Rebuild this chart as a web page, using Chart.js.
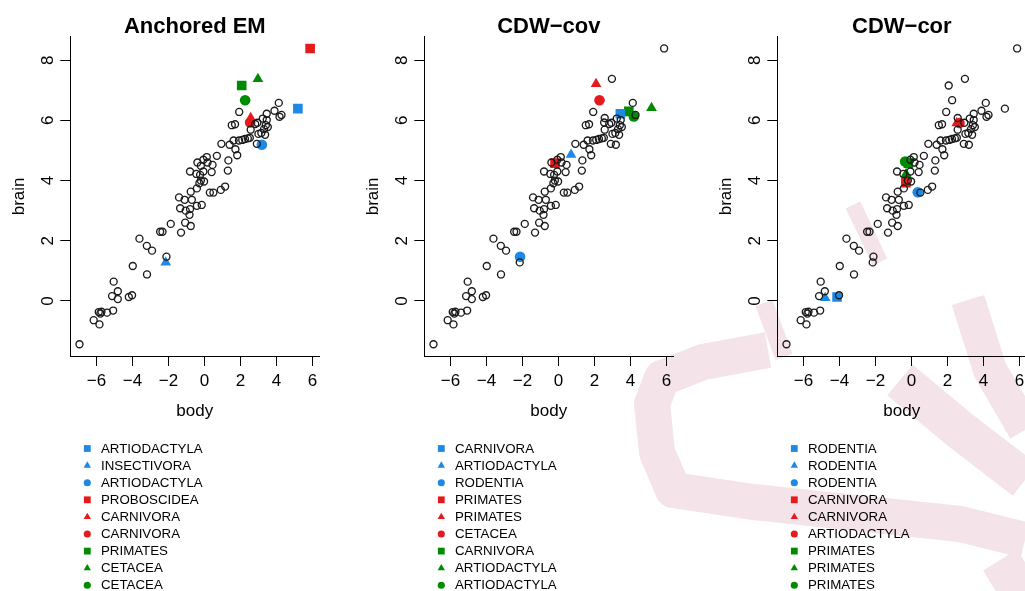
<!DOCTYPE html>
<html lang="en">
<head>
    <meta charset="UTF-8">
    <title>Anchored EM vs CDW</title>
    <script src="https://cdn.jsdelivr.net/npm/chart.js"></script>
    <style>
        body {
            margin: 0;
            background: #fff;
            width: 1025px;
            height: 591px;
            overflow: hidden;
            position: relative;
        }
        canvas, svg {
            position: absolute;
            top: 0;
        }
    </style>
</head>
<body>
    <!-- faint watermark behind the plots -->
    <svg width="1025" height="591" style="left:0">
        <g fill="none" stroke="#F4E3E8" stroke-linejoin="round" stroke-linecap="butt">
            <polyline stroke-width="36" points="768,350 703,362 662,378 652,404 657,452 673,490 753,502 960,524 1025,540"/>
            <polyline stroke-width="18" points="764,303 784,357"/>
            <polyline stroke-width="16" points="853,205 880,262"/>
            <polyline stroke-width="34" points="968,300 990,370 1025,430"/>
            <polyline stroke-width="40" points="900,380 960,430 1025,480"/>
            <polyline stroke-width="40" points="1000,560 1025,600"/>
        </g>
    </svg>
    <canvas id="p1" width="354" height="591" style="left:0px"></canvas>
    <canvas id="p2" width="354" height="591" style="left:354px"></canvas>
    <canvas id="p3" width="354" height="591" style="left:707px"></canvas>

    <script>
        // all observations (log body, log brain)
        const body = [-6.94, -6.15, -5.83, -5.87, -5.78, -5.72, -5.41, -5.07, -5.13, -5.04,
            -4.81, -4.81, -4.20, -4.02, -3.98, -3.61, -3.19, -3.20, -2.91, -2.46,
            -2.33, -2.11, -2.15, -1.87, -1.30, -1.07, -0.76, -1.41, -1.35, -1.10,
            -1.04, -0.80, -0.83, -0.70, -0.42, -0.15, -0.76, -0.42, -0.28, -0.20,
            -0.02, -0.80, -0.45, -0.24, -0.06, -0.39, -0.20, -0.06, 0.13, 0.17,
            0.45, 0.69, 0.40, 0.30, 0.50, 0.91, 1.15, 1.30, 1.33, 0.94,
            1.40, 1.72, 1.82, 1.52, 1.70, 1.93, 1.62, 1.92, 2.10, 2.25,
            2.41, 2.52, 2.91, 3.00, 3.16, 3.31, 3.41, 3.52, 3.37, 3.46,
            3.46, 3.24, 2.82, 2.94, 2.57, 3.89, 4.13, 4.17, 4.28, 5.19,
            3.19, 5.87, 2.57, 2.54, 2.07, 2.97, 2.26];
        const brain = [-1.44, -0.64, -0.78, -0.37, -0.42, -0.36, -0.39, -0.32, 0.16, 0.64,
            0.32, 0.06, 0.13, 0.19, 1.16, 2.07, 0.88, 1.83, 1.67, 2.30,
            2.30, 1.47, 1.28, 2.56, 2.27, 2.60, 2.49, 3.44, 3.08, 3.36,
            3.00, 3.05, 2.86, 3.36, 3.16, 3.19, 3.63, 3.74, 3.91, 4.00,
            3.97, 4.30, 4.22, 4.19, 4.30, 4.60, 4.49, 4.69, 4.78, 4.60,
            4.52, 4.82, 4.28, 3.60, 3.60, 3.69, 3.80, 4.33, 4.67, 5.22,
            5.19, 5.04, 4.84, 5.84, 5.87, 6.28, 5.33, 5.33, 5.35, 5.38,
            5.40, 5.42, 5.22, 5.55, 5.58, 5.71, 5.84, 5.78, 5.52, 6.01,
            6.22, 6.06, 5.88, 5.92, 5.69, 6.32, 6.58, 6.12, 6.18, 6.39,
            5.19, 8.39, 6.08, 5.93, 7.16, 7.38, 6.67];

        const xTicks = [-6, -4, -2, 0, 2, 4, 6];
        const yTicks = [0, 2, 4, 6, 8];

        // highlighted observations per panel
        const emBody = [5.19, -2.15, 3.19, 5.87, 2.57, 2.54, 2.07, 2.97, 2.26];
        const emBrain = [6.39, 1.28, 5.19, 8.39, 6.08, 5.93, 7.16, 7.38, 6.67];
        const emLabels = ['ARTIODACTYLA', 'INSECTIVORA', 'ARTIODACTYLA', 'PROBOSCIDEA', 'CARNIVORA',
            'CARNIVORA', 'PRIMATES', 'CETACEA', 'CETACEA'];

        const covBody = [3.44, 0.70, -2.13, -0.19, 2.09, 2.28, 3.91, 5.17, 4.19];
        const covBrain = [6.22, 4.86, 1.47, 4.58, 7.21, 6.67, 6.30, 6.41, 6.13];
        const covLabels = ['CARNIVORA', 'ARTIODACTYLA', 'RODENTIA', 'PRIMATES', 'PRIMATES',
            'CETACEA', 'CARNIVORA', 'ARTIODACTYLA', 'ARTIODACTYLA'];

        const corBody = [-4.13, -4.79, 0.35, -0.31, 2.52, 2.67, -0.17, -0.30, -0.35];
        const corBrain = [0.13, 0.10, 3.61, 3.93, 5.91, 5.91, 4.58, 4.22, 4.63];
        const corLabels = ['RODENTIA', 'RODENTIA', 'RODENTIA', 'CARNIVORA', 'CARNIVORA',
            'ARTIODACTYLA', 'PRIMATES', 'PRIMATES', 'PRIMATES'];

        const shapes = ['rect', 'triangle', 'circle'];
        const colors = ['#1E88E5', '#E41A1C', '#008B00'];
        const FONT = '"Liberation Sans", Arial, Helvetica, sans-serif';

        function drawMarker(ctx, shape, x, y, s) {
            ctx.beginPath();
            if (shape === 'rect') {
                ctx.rect(x - s, y - s, 2 * s, 2 * s);
            } else if (shape === 'triangle') {
                const r = s * 1.25;
                ctx.moveTo(x, y - r);
                ctx.lineTo(x + r * 0.866, y + r * 0.5);
                ctx.lineTo(x - r * 0.866, y + r * 0.5);
                ctx.closePath();
            } else {
                ctx.arc(x, y, s * 1.05, 0, Math.PI * 2);
            }
            ctx.fill();
        }

        const decor = {
            id: 'decor',
            afterDraw(chart, args, opts) {
                const {ctx, chartArea: a} = chart;
                const yScale = chart.scales.y;
                ctx.save();
                ctx.fillStyle = '#000';
                ctx.textAlign = 'center';
                ctx.textBaseline = 'middle';
                ctx.font = 'bold 22px ' + FONT;
                ctx.fillText(opts.title, (a.left + a.right) / 2, 27);

                ctx.font = '17px ' + FONT;
                yTicks.forEach(v => {
                    ctx.save();
                    ctx.translate(48, yScale.getPixelForValue(v));
                    ctx.rotate(-Math.PI / 2);
                    ctx.fillText(String(v), 0, 0);
                    ctx.restore();
                });

                ctx.font = '13.3px ' + FONT;
                ctx.textAlign = 'left';
                opts.labels.forEach((lab, i) => {
                    const yy = 448.5 + i * 17.1;
                    ctx.fillStyle = colors[Math.floor(i / 3)];
                    drawMarker(ctx, shapes[i % 3], 87.3, yy, 3.4);
                    ctx.fillStyle = '#000';
                    ctx.fillText(lab, 101, yy + 0.5);
                });
                ctx.restore();
            }
        };

        function makePanel(id, title, hx, hy, labels) {
            // drop the plain circle that each highlighted observation replaces
            const used = new Set();
            hx.forEach((x, k) => {
                let best = -1, bd = Infinity;
                body.forEach((bx, i) => {
                    if (used.has(i)) return;
                    const d = Math.pow((bx - x) * 18, 2) + Math.pow((brain[i] - hy[k]) * 30, 2);
                    if (d < bd) { bd = d; best = i; }
                });
                used.add(best);
            });
            const plain = body.map((x, i) => ({x: x, y: brain[i]})).filter((p, i) => !used.has(i));

            const datasets = [{
                data: plain,
                pointStyle: 'circle',
                pointRadius: 3.5,
                pointBorderWidth: 1.35,
                pointBorderColor: '#1a1a1a',
                pointBackgroundColor: 'rgba(0,0,0,0)'
            }];
            const sizes = {rect: 6.8, triangle: 6.2, circle: 5.3};
            hx.forEach((x, k) => {
                const shape = shapes[k % 3];
                datasets.push({
                    label: labels[k],
                    data: [{x: x, y: hy[k]}],
                    pointStyle: shape,
                    pointRadius: sizes[shape],
                    pointBorderWidth: 0,
                    pointBackgroundColor: colors[Math.floor(k / 3)],
                    pointBorderColor: colors[Math.floor(k / 3)]
                });
            });

            const axisFont = {family: FONT, size: 17};
            new Chart(document.getElementById(id), {
                type: 'scatter',
                data: {datasets: datasets},
                options: {
                    responsive: false,
                    animation: false,
                    events: [],
                    layout: {padding: {left: 0, right: 34.7, top: 36.7, bottom: 165}},
                    plugins: {
                        legend: {display: false},
                        tooltip: {enabled: false},
                        decor: {title: title, labels: labels}
                    },
                    scales: {
                        x: {
                            type: 'linear',
                            min: -7.45,
                            max: 6.38,
                            afterBuildTicks: s => { s.ticks = xTicks.map(v => ({value: v})); },
                            afterFit: s => { s.height = 70; },
                            grid: {drawOnChartArea: false, tickLength: 10, color: '#000', lineWidth: 1},
                            border: {color: '#000', width: 1},
                            ticks: {
                                color: '#000', font: axisFont, padding: 5, autoSkip: false,
                                maxRotation: 0, minRotation: 0,
                                callback: v => String(v).replace('-', '\u2212')
                            },
                            title: {display: true, text: 'body', color: '#000', font: axisFont, padding: {top: 0, bottom: 4}}
                        },
                        y: {
                            type: 'linear',
                            min: -1.83,
                            max: 8.78,
                            afterBuildTicks: s => { s.ticks = yTicks.map(v => ({value: v})); },
                            afterFit: s => { s.width = 70.3; },
                            grid: {drawOnChartArea: false, tickLength: 10, color: '#000', lineWidth: 1},
                            border: {color: '#000', width: 1},
                            ticks: {display: false},
                            title: {display: true, text: 'brain', color: '#000', font: axisFont, padding: {top: 9, bottom: 0}}
                        }
                    }
                },
                plugins: [decor]
            });
        }

        makePanel('p1', 'Anchored EM', emBody, emBrain, emLabels);
        makePanel('p2', 'CDW\u2212cov', covBody, covBrain, covLabels);
        makePanel('p3', 'CDW\u2212cor', corBody, corBrain, corLabels);
    </script>
</body>
</html>
